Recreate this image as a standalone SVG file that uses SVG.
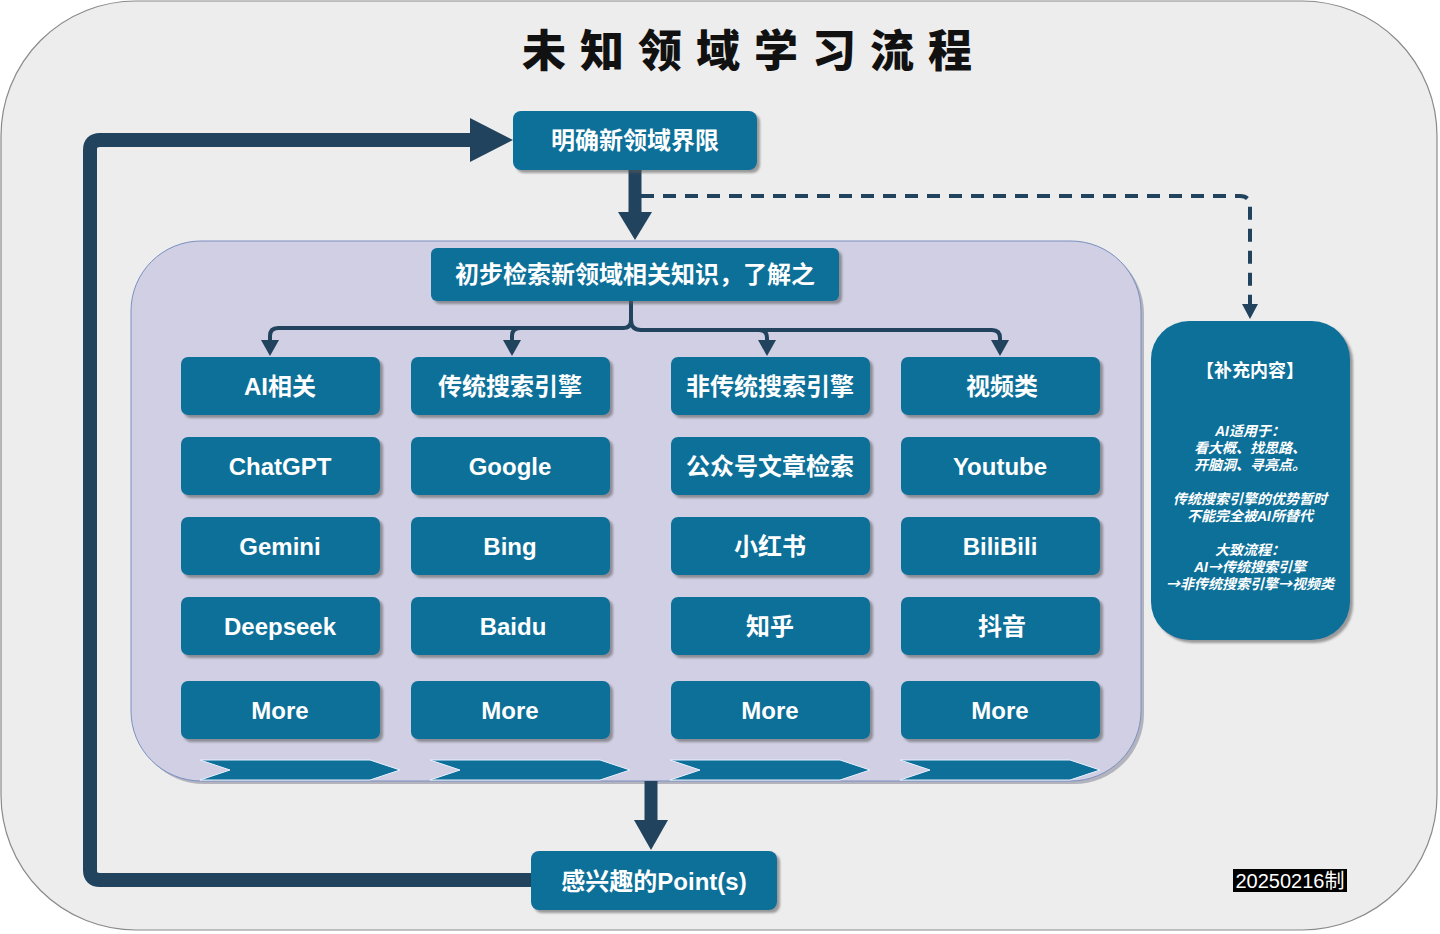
<svg xmlns="http://www.w3.org/2000/svg" width="1440" height="934" viewBox="0 0 1440 934">
<defs>
<style>
.n{fill:#0e7099;filter:url(#sh)}
.t{fill:#fff;font-family:"Liberation Sans","Noto Sans CJK SC",sans-serif;font-weight:bold;font-size:24px;text-anchor:middle}
.s{fill:#fff;font-family:"Liberation Sans","Noto Sans CJK SC",sans-serif;font-weight:bold;font-style:italic;font-size:14px;text-anchor:middle}
.ar{font-family:"Noto Sans CJK SC",sans-serif}
.thick{fill:none;stroke:#22435e;stroke-width:14;stroke-linejoin:round}
.thin{fill:none;stroke:#22435e;stroke-width:4}
.hd{fill:#22435e}
.chev{fill:#0e7099;stroke:#e8f0ff;stroke-width:1}
</style>
<filter id="sh" x="-10%" y="-10%" width="130%" height="140%">
<feDropShadow dx="3" dy="3" stdDeviation="1" flood-color="#555" flood-opacity="0.55"/>
</filter>
</defs>

<rect x="1" y="1" width="1436" height="929" rx="135" fill="#ededed" stroke="#8a8a8a" stroke-width="1.2"/>
<text x="522" y="67" style="font-family:'Noto Sans CJK SC',sans-serif;font-weight:900;font-size:44px;letter-spacing:14px;fill:#111">未知领域学习流程</text>

<g id="container">
<rect x="134" y="244" width="1010" height="540" rx="70" fill="#9a9aaa" opacity="0.7"/>
<rect x="131" y="241" width="1010" height="540" rx="70" fill="#d0cfe3" stroke="#7a90c0" stroke-width="1"/>
</g>

<g id="connectors">
<path class="thick" d="M531,880 H100 Q90,880 90,870 V150 Q90,140 100,140 H472"/>
<polygon class="hd" points="470,118 513,140 470,162"/>
<line x1="635" y1="170" x2="635" y2="214" stroke="#22435e" stroke-width="13"/>
<polygon class="hd" points="618,212 652,212 635,240"/>
<path d="M641,196 H1240 Q1250,196 1250,206 V305" fill="none" stroke="#22435e" stroke-width="4" stroke-dasharray="13,9"/>
<polygon class="hd" points="1242,304 1258,304 1250,319"/>
<line x1="651" y1="781" x2="651" y2="822" stroke="#22435e" stroke-width="13"/>
<polygon class="hd" points="634,820 668,820 651,850"/>
<path class="thin" d="M631,301 V320 Q631,328 623,328 H278 Q270,328 270,336 V342"/>
<path class="thin" d="M520,328 Q512,328 512,336 V342"/>
<path class="thin" d="M631,320 Q631,330 641,330 H759 Q767,330 767,338 V342"/>
<path class="thin" d="M759,330 H992 Q1000,330 1000,338 V342"/>
<polygon class="hd" points="261,340 279,340 270,356"/>
<polygon class="hd" points="503,340 521,340 512,356"/>
<polygon class="hd" points="758,340 776,340 767,356"/>
<polygon class="hd" points="991,340 1009,340 1000,356"/>
</g>

<g id="n-top"><rect class="n" x="513" y="111" width="244" height="59" rx="8"/><text class="t" x="635" y="149">明确新领域界限</text></g>
<g id="n-search"><rect class="n" x="431" y="248" width="408" height="53" rx="6"/><text class="t" x="635" y="283">初步检索新领域相关知识，了解之</text></g>

<g id="c1-r1"><rect class="n" x="181" y="357" width="199" height="58" rx="7"/><text class="t" x="280" y="395">AI相关</text></g>
<g id="c2-r1"><rect class="n" x="411" y="357" width="199" height="58" rx="7"/><text class="t" x="510" y="395">传统搜索引擎</text></g>
<g id="c3-r1"><rect class="n" x="671" y="357" width="199" height="58" rx="7"/><text class="t" x="770" y="395">非传统搜索引擎</text></g>
<g id="c4-r1"><rect class="n" x="901" y="357" width="199" height="58" rx="7"/><text class="t" x="1002" y="395">视频类</text></g>

<g id="c1-r2"><rect class="n" x="181" y="437" width="199" height="58" rx="7"/><text class="t" x="280" y="475">ChatGPT</text></g>
<g id="c2-r2"><rect class="n" x="411" y="437" width="199" height="58" rx="7"/><text class="t" x="510" y="475">Google</text></g>
<g id="c3-r2"><rect class="n" x="671" y="437" width="199" height="58" rx="7"/><text class="t" x="770" y="475">公众号文章检索</text></g>
<g id="c4-r2"><rect class="n" x="901" y="437" width="199" height="58" rx="7"/><text class="t" x="1000" y="475">Youtube</text></g>

<g id="c1-r3"><rect class="n" x="181" y="517" width="199" height="58" rx="7"/><text class="t" x="280" y="555">Gemini</text></g>
<g id="c2-r3"><rect class="n" x="411" y="517" width="199" height="58" rx="7"/><text class="t" x="510" y="555">Bing</text></g>
<g id="c3-r3"><rect class="n" x="671" y="517" width="199" height="58" rx="7"/><text class="t" x="770" y="555">小红书</text></g>
<g id="c4-r3"><rect class="n" x="901" y="517" width="199" height="58" rx="7"/><text class="t" x="1000" y="555">BiliBili</text></g>

<g id="c1-r4"><rect class="n" x="181" y="597" width="199" height="58" rx="7"/><text class="t" x="280" y="635">Deepseek</text></g>
<g id="c2-r4"><rect class="n" x="411" y="597" width="199" height="58" rx="7"/><text class="t" x="513" y="635">Baidu</text></g>
<g id="c3-r4"><rect class="n" x="671" y="597" width="199" height="58" rx="7"/><text class="t" x="770" y="635">知乎</text></g>
<g id="c4-r4"><rect class="n" x="901" y="597" width="199" height="58" rx="7"/><text class="t" x="1002" y="635">抖音</text></g>

<g id="c1-r5"><rect class="n" x="181" y="681" width="199" height="58" rx="7"/><text class="t" x="280" y="719">More</text></g>
<g id="c2-r5"><rect class="n" x="411" y="681" width="199" height="58" rx="7"/><text class="t" x="510" y="719">More</text></g>
<g id="c3-r5"><rect class="n" x="671" y="681" width="199" height="58" rx="7"/><text class="t" x="770" y="719">More</text></g>
<g id="c4-r5"><rect class="n" x="901" y="681" width="199" height="58" rx="7"/><text class="t" x="1000" y="719">More</text></g>

<g id="chevrons">
<polygon class="chev" points="200,760 370,760 400,770 370,780 200,780 230,770"/>
<polygon class="chev" points="430,760 600,760 630,770 600,780 430,780 460,770"/>
<polygon class="chev" points="670,760 840,760 870,770 840,780 670,780 700,770"/>
<polygon class="chev" points="900,760 1070,760 1100,770 1070,780 900,780 930,770"/>
</g>

<g id="n-point"><rect class="n" x="531" y="851" width="246" height="59" rx="8"/><text class="t" x="654" y="890">感兴趣的Point(s)</text></g>

<g id="n-supp">
<rect class="n" x="1151" y="321" width="199" height="319" rx="38"/>
<text class="t" x="1250" y="377" style="font-size:18px">【补充内容】</text>
<text class="s" x="1250" y="436">AI适用于：</text>
<text class="s" x="1250" y="453">看大概、找思路、</text>
<text class="s" x="1250" y="470">开脑洞、寻亮点。</text>
<text class="s" x="1250" y="504">传统搜索引擎的优势暂时</text>
<text class="s" x="1250" y="521">不能完全被AI所替代</text>
<text class="s" x="1250" y="555">大致流程：</text>
<text class="s" x="1250" y="572">AI<tspan class="ar">→</tspan>传统搜索引擎</text>
<text class="s" x="1250" y="589"><tspan class="ar">→</tspan>非传统搜索引擎<tspan class="ar">→</tspan>视频类</text>
</g>

<g id="stamp">
<rect x="1233" y="869" width="114" height="23" fill="#000"/>
<text x="1290" y="888" style="fill:#fff;font-family:'Liberation Sans','Noto Sans CJK SC',sans-serif;font-size:20px;text-anchor:middle">20250216制</text>
</g>
</svg>
